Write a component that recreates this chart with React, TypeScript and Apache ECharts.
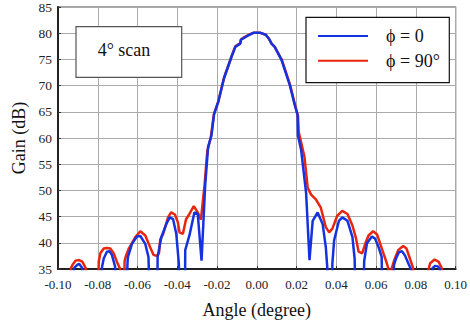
import React, { useEffect, useRef } from "react";
import * as echarts from "echarts";

const xTicks = [-0.1, -0.08, -0.06, -0.04, -0.02, 0, 0.02, 0.04, 0.06, 0.08, 0.1];
const yTicks = [35, 40, 45, 50, 55, 60, 65, 70, 75, 80, 85];

// phi = 0 (blue): [angle, gain]
const phi0: number[][] = [
  [-0.0935, 25], [-0.0919, 35.2], [-0.0903, 35.8], [-0.0894, 36.0], [-0.0878, 35.2], [-0.0865, 25],
  [-0.0787, 25], [-0.0779, 35.3], [-0.077, 37.0], [-0.0754, 38.3], [-0.0741, 38.4], [-0.0729, 37.7], [-0.0713, 35.5], [-0.0705, 25],
  [-0.066, 25], [-0.065, 36.5], [-0.0648, 37.3], [-0.0628, 39.8], [-0.0603, 41.2], [-0.0586, 41.3], [-0.0561, 39.8], [-0.0545, 37.3], [-0.0535, 25],
  [-0.0501, 25], [-0.0499, 37.3], [-0.048, 41.1], [-0.0455, 43.6], [-0.0438, 44.85], [-0.0421, 44.5], [-0.0405, 41.7], [-0.0392, 36], [-0.0386, 25],
  [-0.0362, 25], [-0.036, 38.6], [-0.0339, 41.4], [-0.0314, 45.8], [-0.0297, 45.5], [-0.0278, 36.6],
  [-0.026, 50.8], [-0.0245, 58.3], [-0.0228, 60.5], [-0.022, 63.0], [-0.0215, 64.55], [-0.0193, 67.0], [-0.0165, 71.4],
  [-0.0127, 75.5], [-0.0108, 77.4], [-0.0083, 78.0], [-0.008, 78.75], [-0.006, 79.2], [-0.004, 79.65], [-0.0015, 80.1],
  [0.0015, 80.1], [0.0045, 79.7], [0.006, 79.0], [0.0066, 78.6], [0.0074, 78.0], [0.009, 77.4], [0.0124, 74.9],
  [0.0165, 70.2], [0.019, 66.4], [0.0205, 64.4], [0.0207, 60.5], [0.0223, 57.7], [0.0248, 49.5], [0.0265, 36.7],
  [0.0281, 44.2], [0.0306, 45.8], [0.0331, 43.6], [0.0347, 39.2], [0.0355, 35], [0.036, 25],
  [0.0378, 25], [0.038, 36], [0.0389, 40.5], [0.0413, 44.2], [0.043, 44.85], [0.0456, 44.2], [0.0481, 41.1], [0.0492, 37.0], [0.0498, 25],
  [0.0535, 25], [0.054, 36.5], [0.0554, 39.9], [0.0579, 41.2], [0.0595, 40.8], [0.0612, 39.2], [0.0628, 37.3], [0.0633, 25],
  [0.0683, 25], [0.069, 35.8], [0.07, 37.0], [0.0715, 38.2], [0.073, 38.4], [0.0745, 37.6], [0.0765, 35.8], [0.0775, 35], [0.0783, 25],
  [0.0876, 25], [0.0884, 35.2], [0.0898, 35.6], [0.0911, 35.5], [0.092, 35], [0.0928, 25],
];

// phi = 90 deg (red): [angle, gain]
const phi90: number[][] = [
  [-0.0945, 25], [-0.0935, 35.15], [-0.0927, 35.8], [-0.0911, 36.6], [-0.0894, 36.7], [-0.0878, 36.4], [-0.0861, 35.2], [-0.0852, 25],
  [-0.08, 25], [-0.0795, 36.4], [-0.0787, 38.0], [-0.077, 38.9], [-0.0754, 39.0], [-0.0737, 38.9], [-0.072, 38.0], [-0.0704, 36.4], [-0.0687, 35.0], [-0.068, 25],
  [-0.0668, 25], [-0.0665, 36.5], [-0.066, 37.3], [-0.0644, 38.9], [-0.0611, 41.1], [-0.0586, 42.2], [-0.0561, 41.4], [-0.0537, 39.2],
  [-0.052, 37.7], [-0.0504, 37.5], [-0.0492, 38.0], [-0.0486, 40.6], [-0.0471, 41.7], [-0.0446, 44.9], [-0.0431, 45.8], [-0.0412, 45.4],
  [-0.0397, 43.9], [-0.0389, 42.0], [-0.0372, 41.7], [-0.0356, 44.5], [-0.0339, 45.5], [-0.0317, 47.0], [-0.0297, 45.8], [-0.0281, 44.4],
  [-0.0263, 51.0], [-0.0249, 57.5], [-0.0232, 60.0], [-0.0222, 62.8], [-0.0216, 64.5], [-0.0193, 67.1], [-0.0165, 71.5],
  [-0.0127, 75.6], [-0.0108, 77.5], [-0.0083, 78.1], [-0.008, 78.8], [-0.006, 79.3], [-0.004, 79.7], [-0.0015, 80.1],
  [0.0015, 80.1], [0.0045, 79.7], [0.006, 79.0], [0.0066, 78.6], [0.0074, 78.0], [0.009, 77.4], [0.0126, 74.9],
  [0.0167, 70.2], [0.0193, 66.2], [0.0207, 64.2], [0.0211, 61.1], [0.0223, 59.2], [0.024, 56.3], [0.0256, 50.5],
  [0.0273, 49.2], [0.0297, 48.3], [0.0322, 46.7], [0.0347, 43.0], [0.0364, 42.0], [0.038, 42.7], [0.0405, 45.2],
  [0.043, 46.1], [0.0456, 45.5], [0.0481, 43.3], [0.0498, 41.0], [0.0512, 38.3], [0.053, 38.0], [0.0546, 39.9],
  [0.0562, 41.4], [0.0585, 42.2], [0.0605, 41.6], [0.062, 39.9], [0.0637, 38.0], [0.0654, 36.1], [0.0662, 35.0], [0.067, 25],
  [0.0672, 25], [0.0678, 35.0], [0.0691, 36.7], [0.0711, 38.6], [0.0736, 39.4], [0.0753, 38.9], [0.077, 37.0], [0.0786, 35.2], [0.0795, 25],
  [0.0855, 25], [0.0864, 35.0], [0.0872, 36.1], [0.0894, 36.8], [0.0914, 36.4], [0.093, 35.2], [0.094, 25],
];

const seriesNames = ["ϕ = 0", "ϕ = 90°"];
const annotation = "4° scan";

const FONT = "'Liberation Serif', 'Times New Roman', serif";

export default function App() {
  const ref = useRef<HTMLDivElement>(null);
  useEffect(() => {
    if (!ref.current) return;
    const chart = echarts.init(ref.current, undefined, { renderer: "svg" });
    chart.setOption({
      animation: false,
      backgroundColor: "#ffffff",
      grid: {
        left: 58,
        right: 8.3,
        top: 6,
        bottom: 51.3,
        show: true,
        borderColor: "#444",
        borderWidth: 1.2,
      },
      xAxis: {
        type: "value",
        min: xTicks[0],
        max: xTicks[xTicks.length - 1],
        interval: 0.02,
        name: "Angle (degree)",
        nameLocation: "middle",
        nameGap: 32,
        nameTextStyle: { fontFamily: FONT, fontSize: 18, color: "#111" },
        axisLine: { show: true, onZero: false, lineStyle: { color: "#222", width: 2 } },
        axisTick: { show: true, inside: true, length: 3, lineStyle: { color: "#333" } },
        axisLabel: {
          fontFamily: FONT,
          fontSize: 13,
          color: "#222",
          margin: 9,
          formatter: (v: number) => v.toFixed(2),
        },
        splitLine: { show: true, lineStyle: { color: "#aaa", width: 1 } },
      },
      yAxis: {
        type: "value",
        min: yTicks[0],
        max: yTicks[yTicks.length - 1],
        interval: 5,
        name: "Gain (dB)",
        nameLocation: "middle",
        nameGap: 28,
        nameTextStyle: { fontFamily: FONT, fontSize: 18, color: "#111" },
        axisLine: { show: true, onZero: false, lineStyle: { color: "#222", width: 2 } },
        axisTick: { show: true, inside: true, length: 3, lineStyle: { color: "#333" } },
        axisLabel: { fontFamily: FONT, fontSize: 13.5, color: "#222", margin: 6 },
        splitLine: { show: true, lineStyle: { color: "#aaa", width: 1 } },
      },
      series: [
        {
          name: seriesNames[1],
          type: "line",
          data: phi90,
          showSymbol: false,
          symbol: "none",
          clip: true,
          lineStyle: { color: "#e8250f", width: 2.5 },
          z: 2,
        },
        {
          name: seriesNames[0],
          type: "line",
          data: phi0,
          showSymbol: false,
          symbol: "none",
          clip: true,
          lineStyle: { color: "#1532e0", width: 2.5 },
          z: 3,
        },
      ],
      graphic: [
        {
          type: "rect",
          shape: { x: 76, y: 26.7, width: 105.7, height: 50.6 },
          style: { fill: "#fff", stroke: "#555", lineWidth: 1.2 },
          z: 10,
        },
        {
          type: "text",
          x: 124,
          y: 50,
          style: {
            text: annotation,
            fontFamily: FONT,
            fontSize: 18,
            fill: "#111",
            align: "center",
            verticalAlign: "middle",
          },
          z: 11,
        },
        {
          type: "rect",
          shape: { x: 306, y: 17.3, width: 143.3, height: 65.4 },
          style: { fill: "#fff", stroke: "#111", lineWidth: 1.2 },
          z: 10,
        },
        {
          type: "line",
          shape: { x1: 318, y1: 36, x2: 368, y2: 36 },
          style: { stroke: "#1532e0", lineWidth: 2 },
          z: 11,
        },
        {
          type: "line",
          shape: { x1: 318, y1: 60.7, x2: 368, y2: 60.7 },
          style: { stroke: "#e8250f", lineWidth: 2 },
          z: 11,
        },
        {
          type: "text",
          x: 386,
          y: 36,
          style: {
            text: seriesNames[0],
            fontFamily: FONT,
            fontSize: 18,
            fill: "#111",
            align: "left",
            verticalAlign: "middle",
          },
          z: 11,
        },
        {
          type: "text",
          x: 386,
          y: 60.7,
          style: {
            text: seriesNames[1],
            fontFamily: FONT,
            fontSize: 18,
            fill: "#111",
            align: "left",
            verticalAlign: "middle",
          },
          z: 11,
        },
      ],
    });
    return () => chart.dispose();
  }, []);
  return <div ref={ref} style={{ width: 470, height: 324, position: "absolute", left: 0, top: 0 }} />;
}
